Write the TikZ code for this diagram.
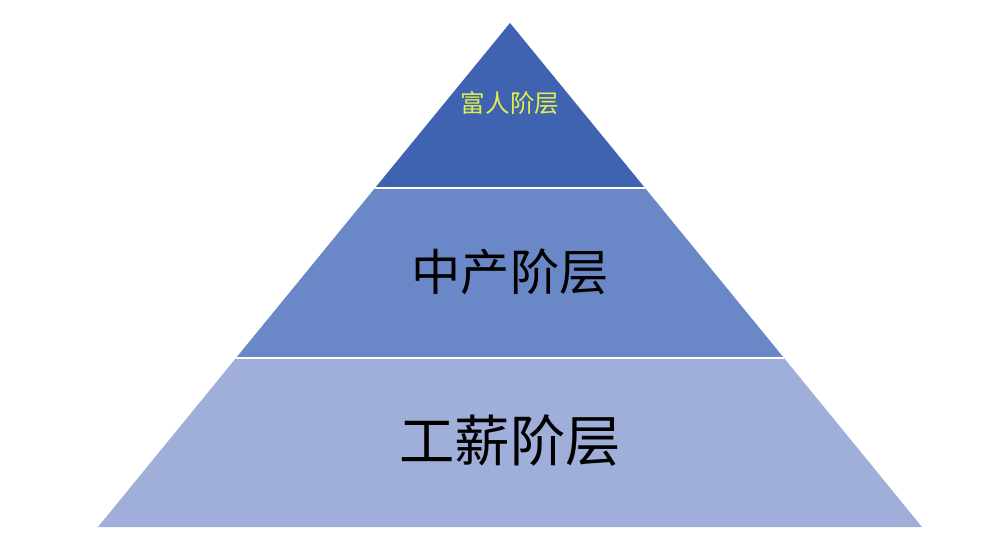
\documentclass[tikz,border=0pt]{standalone}
\usepackage{fontspec}
\newfontfamily\cjk{Noto Sans CJK SC}
\usetikzlibrary{positioning}
\definecolor{topblue}{HTML}{3F63B0}
\definecolor{midblue}{HTML}{6A87C8}
\definecolor{lowblue}{HTML}{9FAFDA}
\definecolor{richtext}{HTML}{E2EE4C}

\begin{document}
\begin{tikzpicture}[
		x=0.02cm, y=-0.02cm,
		layer/.style={draw=white, line width=1.6pt, line join=miter},
		label/.style={font=\cjk, inner sep=0pt}
	]
	\useasboundingbox (0,0) rectangle (1000,560) ;

	\coordinate (Apex) at (510,23) ;
	\coordinate (L1) at (375,188) ;
	\coordinate (R1) at (645,188) ;
	\coordinate (L2) at (236,358) ;
	\coordinate (R2) at (784,358) ;
	\coordinate (L3) at (98,527) ;
	\coordinate (R3) at (922,527) ;

	\fill [lowblue] (L2) -- (R2) -- (R3) -- (L3) -- cycle ;
	\fill [midblue] (L1) -- (R1) -- (R2) -- (L2) -- cycle ;
	\fill [topblue] (Apex) -- (R1) -- (L1) -- cycle ;
	\draw [layer] (L1) -- (R1) ;
	\draw [layer] (L2) -- (R2) ;

	\node [label, text=richtext, font=\cjk\fontsize{14}{14}\selectfont] (Rich) at (510,103) {富人阶层} ;
	\node [label, font=\cjk\fontsize{28}{28}\selectfont] (Middle) at (510,272) {中产阶层} ;
	\node [label, font=\cjk\fontsize{31.5}{31.5}\selectfont] (Worker) at (510,441) {工薪阶层} ;
\end{tikzpicture}
\end{document}
